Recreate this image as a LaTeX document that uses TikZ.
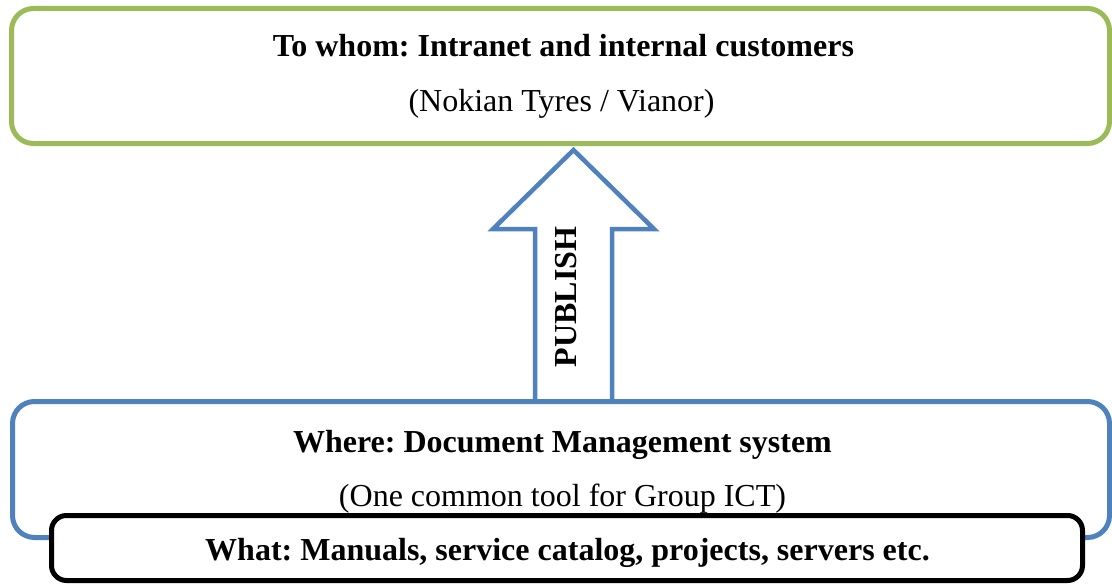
\documentclass[tikz,border=0pt]{standalone}
\usepackage{fontspec}
\setmainfont{Liberation Serif}
\usepackage{xcolor}
\usepackage{tikz}
\usetikzlibrary{positioning,calc}
\definecolor{custgreen}{RGB}{155,187,89}
\definecolor{dmsblue}{RGB}{79,129,189}
\frenchspacing

\begin{document}
\begin{tikzpicture}[x=1pt,y=-1pt,
    box/.style={draw, rounded corners=22pt, line width=5pt, inner sep=0pt, fill=white},
    txt/.style={anchor=base, inner sep=0pt, font=\fontsize{32}{38}\selectfont},
    hdr/.style={txt, font=\fontsize{32}{38}\selectfont\bfseries}]
    \useasboundingbox (0,0) rectangle (1112,586);
    % publish arrow, drawn first so the box edge sits on its tail
    \coordinate (tip) at (573.5,150);
    \draw[dmsblue, line width=4.5pt, fill=white, line join=miter]
        (535,401.5) -- (535,229) -- (493,229) -- (tip)
        -- (654,229) -- (612,229) -- (612,401.5);
    \node[rotate=90, inner sep=0pt, font=\fontsize{32}{38}\selectfont\bfseries] (publish) at (566.5,297) {PUBLISH};
    % target audience
    \node[box, draw=custgreen, minimum width=1098pt, minimum height=135pt] (whom) at (560.5,76) {};
    \node[hdr] (whomhdr) at (563.5,57) {To whom: Intranet and internal customers};
    \node[txt] (whomsub) at (561.5,111) {(Nokian Tyres / Vianor)};
    % storage
    \node[box, draw=dmsblue, minimum width=1097pt, minimum height=136pt] (where) at (561,469.5) {};
    \node[hdr] (wherehdr) at (562.5,452) {Where: Document Management system};
    \node[txt] (wheresub) at (562.5,506) {(One common tool for Group ICT)};
    % content, overlapping the storage box
    \node[box, draw=black, rounded corners=15pt, minimum width=1031pt, minimum height=65pt] (what) at (567,548) {};
    \node[hdr] (whathdr) at (567.5,560) {What: Manuals, service catalog, projects, servers etc.};
\end{tikzpicture}
\end{document}
